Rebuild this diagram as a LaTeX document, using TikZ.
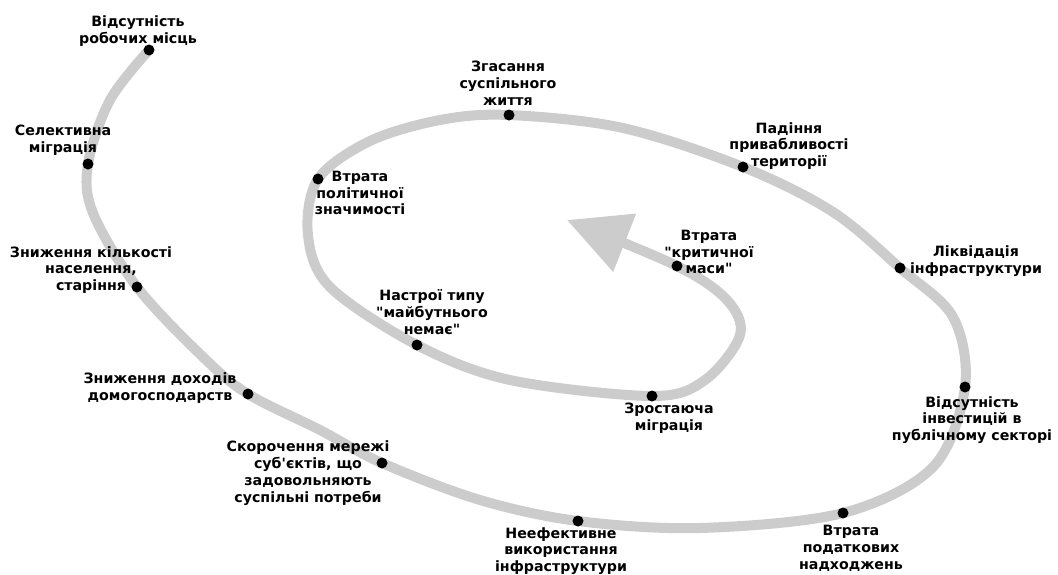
\documentclass[tikz,border=0pt]{standalone}
\usepackage{fontspec}
\newfontfamily\lblfont{DejaVu Sans}
\usetikzlibrary{arrows.meta,backgrounds}

\tikzset{
  pt/.style={circle, fill=black, inner sep=0pt, minimum size=11pt},
  txt/.style={align=center, inner sep=0pt, font=\lblfont\bfseries\fontsize{14.2}{16.8}\selectfont},
  spiral/.style={line width=10pt, draw=gray!40, line cap=round}
}

\begin{document}
\begin{tikzpicture}[x=1pt, y=-1pt]
\useasboundingbox (0,0) rectangle (1058,574);
\node[pt] (p1) at (149,50) {};
\node[pt] (p2) at (88,164) {};
\node[pt] (p3) at (137,287) {};
\node[pt] (p4) at (248,394) {};
\node[pt] (p5) at (382,463) {};
\node[pt] (p6) at (578,521) {};
\node[pt] (p7) at (843,513) {};
\node[pt] (p8) at (965,387) {};
\node[pt] (p9) at (900,268) {};
\node[pt] (p10) at (743,167) {};
\node[pt] (p11) at (509,115) {};
\node[pt] (p12) at (318,179) {};
\node[pt] (p13) at (417,345) {};
\node[pt] (p14) at (652,396) {};
\node[pt] (p15) at (677,266) {};
\coordinate (tip) at (567,220);

\node[txt] (t1) at (138,31) {Відсутність\\робочих місць};
\node[txt] (t2) at (63,140) {Селективна\\міграція};
\node[txt] (t3) at (91,270) {Зниження кількості\\населення,\\старіння};
\node[txt] (t4) at (160,388) {Зниження доходів\\домогосподарств};
\node[txt] (t5) at (308,473) {Скорочення мережі\\суб'єктів, що\\задовольняють\\суспільні потреби};
\node[txt] (t6) at (561,551) {Неефективне\\використання\\інфраструктури};
\node[txt] (t7) at (851,548) {Втрата\\податкових\\надходжень};
\node[txt] (t8) at (972,420) {Відсутність\\інвестицій в\\публічному секторі};
\node[txt] (t9) at (976,261) {Ліквідація\\інфраструктури};
\node[txt] (t10) at (789,146) {Падіння\\привабливості\\території};
\node[txt] (t11) at (508,83) {Згасання\\суспільного\\життя};
\node[txt] (t12) at (360,193) {Втрата\\політичної\\значимості};
\node[txt] (t13) at (432,312) {Настрої типу\\"майбутнього\\немає"};
\node[txt] (t14) at (669,418) {Зростаюча\\міграція};
\node[txt] (t15) at (709,252) {Втрата\\"критичної\\маси"};

\begin{scope}[on background layer]
\draw[spiral, -{Triangle[length=62pt,width=60pt]}] plot[smooth, tension=0.55] coordinates {
  (p1.center) (110,100) (p2.center) (93,213) (p3.center) (203,357) (p4.center)
  (320,430) (p5.center) (480,500) (p6.center) (700,528) (p7.center) (933,467)
  (p8.center) (953,317) (p9.center) (833,212) (p10.center) (623,128) (p11.center)
  (440,120) (370,141) (p12.center) (308,235) (330,287) (p13.center)
  (510,380) (p14.center) (705,380) (740,335) (727,300) (p15.center) (tip)};
\end{scope}
\end{tikzpicture}
\end{document}
